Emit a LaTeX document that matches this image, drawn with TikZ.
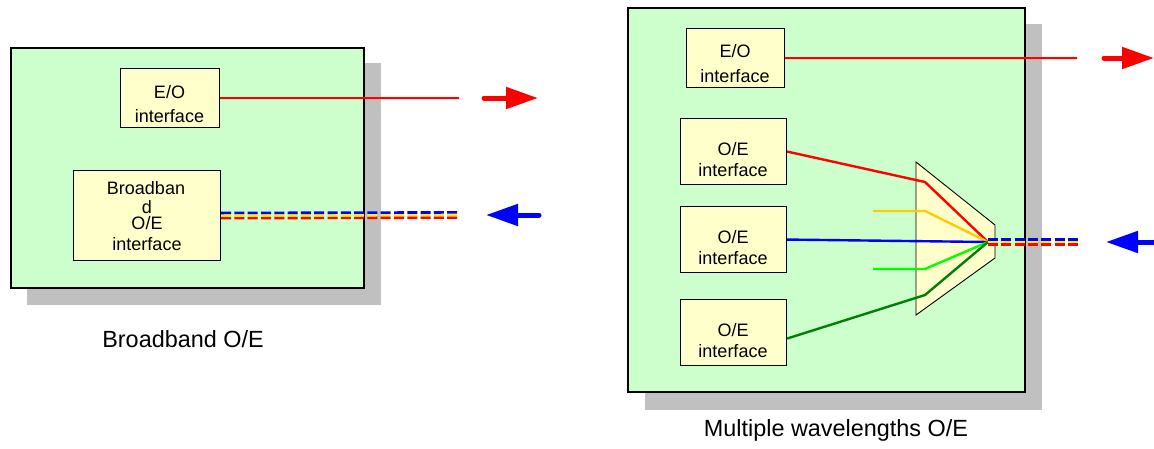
\documentclass[tikz,border=0pt]{standalone}
\usepackage{fontspec}
\setmainfont{Liberation Sans}
\usetikzlibrary{arrows.meta}
\definecolor{panel}{HTML}{CCFFCC}
\definecolor{cardfill}{HTML}{FFFFCC}
\definecolor{shade}{HTML}{C0C0C0}
\definecolor{amber}{HTML}{FFCC00}
\definecolor{lime}{HTML}{00FF00}
\definecolor{forest}{HTML}{008000}

\begin{document}
\begin{tikzpicture}[x=1pt,y=-1pt,
  panelbox/.style={draw=black, line width=1.6pt, fill=panel, inner sep=0pt, anchor=north west},
  shadowbox/.style={fill=shade, draw=none, inner sep=0pt, anchor=north west},
  card/.style={draw=black, line width=1.1pt, fill=cardfill, inner sep=0pt, anchor=north west},
  boxtxt/.style={font=\fontsize{18}{21}\selectfont, anchor=base, inner sep=0pt},
  captxt/.style={font=\fontsize{23.4}{27}\selectfont, anchor=base, inner sep=0pt},
  fibre/.style={line width=2.4pt},
  busline/.style={line width=2.6pt, dash pattern=on 10pt off 3.3pt},
  bigarrow/.style={line width=5pt, line cap=round, -{Triangle[length=32pt,width=21pt]}},
]
\useasboundingbox (0,0) rectangle (1154,448);

% ---------- broadband receiver ----------
\node[shadowbox, minimum width=354pt, minimum height=242pt] (shadowL) at (27,63) {};
\node[panelbox, minimum width=353pt, minimum height=240pt] (panelL) at (10,47) {};

\node[card, minimum width=99pt, minimum height=59pt] (eoL) at (120,68) {};
\node[boxtxt] (eoLa) at (169.5,98) {E/O};
\node[boxtxt] (eoLb) at (169.5,122) {interface};

\node[card, minimum width=147pt, minimum height=90pt] (bbL) at (73,170) {};
\node[boxtxt] (bbLa) at (146,194) {Broadban};
\node[boxtxt] (bbLd) at (147,213) {d};
\node[boxtxt] (bbLb) at (147,229) {O/E};
\node[boxtxt] (bbLc) at (147,250) {interface};

\coordinate (eoLend) at (459,98);
\draw[red, line width=2pt] (eoL.east) -- (eoLend);

\coordinate (busLend) at (460,215);
\draw[busline, red, transform canvas={yshift=-2.6pt}] (bbL.east) -- (busLend);
\draw[busline, yellow] (bbL.east) -- (busLend);
\draw[busline, blue, transform canvas={yshift=2.6pt}] (bbL.east) -- (busLend);

\coordinate (txL0) at (484,98);
\coordinate (txL1) at (538,98);
\draw[bigarrow, red] (txL0) -- (txL1);
\coordinate (rxL0) at (539,215);
\coordinate (rxL1) at (486,215);
\draw[bigarrow, blue] (rxL0) -- (rxL1);

\node[captxt] (capL) at (183,347) {Broadband O/E};

% ---------- multi-wavelength receiver ----------
\node[shadowbox, minimum width=397pt, minimum height=386pt] (shadowR) at (645,24) {};
\node[panelbox, minimum width=397pt, minimum height=384pt] (panelR) at (627,7) {};

\node[card, minimum width=98pt, minimum height=59pt] (eoR) at (686,28) {};
\node[boxtxt] (eoRa) at (735,57) {E/O};
\node[boxtxt] (eoRb) at (735,82) {interface};

\node[card, minimum width=106pt, minimum height=66pt] (oe1) at (680,118) {};
\node[boxtxt] (oe1a) at (733,155) {O/E};
\node[boxtxt] (oe1b) at (733,176) {interface};
\node[card, minimum width=106pt, minimum height=66pt] (oe2) at (680,206) {};
\node[boxtxt] (oe2a) at (733,243) {O/E};
\node[boxtxt] (oe2b) at (733,264) {interface};
\node[card, minimum width=106pt, minimum height=66pt] (oe3) at (680,299) {};
\node[boxtxt] (oe3a) at (733,336) {O/E};
\node[boxtxt] (oe3b) at (733,357) {interface};

% wavelength combiner
\coordinate (muxA) at (916,162);
\coordinate (muxB) at (995,225);
\coordinate (muxC) at (995,258);
\coordinate (muxD) at (916,315);
\draw[fill=cardfill, draw=black, line width=0.9pt] (muxA) -- (muxB) -- (muxC) -- (muxD) -- cycle;
\coordinate (mux) at (988,242);

\coordinate (redK) at (925,182);
\coordinate (ambS) at (873,211);
\coordinate (ambK) at (925,211);
\coordinate (limS) at (873,269);
\coordinate (limK) at (925,269);
\coordinate (forK) at (925,295);
\draw[fibre, red] (oe1.east) -- (redK) -- (mux);
\draw[fibre, amber] (ambS) -- (ambK) -- (mux);
\draw[fibre, blue] (oe2.east) -- (mux);
\draw[fibre, lime] (limS) -- (limK) -- (mux);
\draw[fibre, forest] ([yshift=-6pt]oe3.east) -- (forK) -- (mux);

\coordinate (eoRend) at (1077,58);
\draw[red, line width=2pt] (eoR.east) -- (eoRend);

\coordinate (busRend) at (1078,242);
\draw[busline, red, transform canvas={yshift=-2.6pt}] (mux) -- (busRend);
\draw[busline, yellow] (mux) -- (busRend);
\draw[busline, blue, transform canvas={yshift=2.6pt}] (mux) -- (busRend);

\coordinate (txR0) at (1104,58);
\coordinate (txR1) at (1154,58);
\draw[bigarrow, red] (txR0) -- (txR1);
\coordinate (rxR0) at (1154,242);
\coordinate (rxR1) at (1106,242);
\draw[bigarrow, blue] (rxR0) -- (rxR1);

\node[captxt] (capR) at (836,436) {Multiple wavelengths O/E};
\end{tikzpicture}
\end{document}
